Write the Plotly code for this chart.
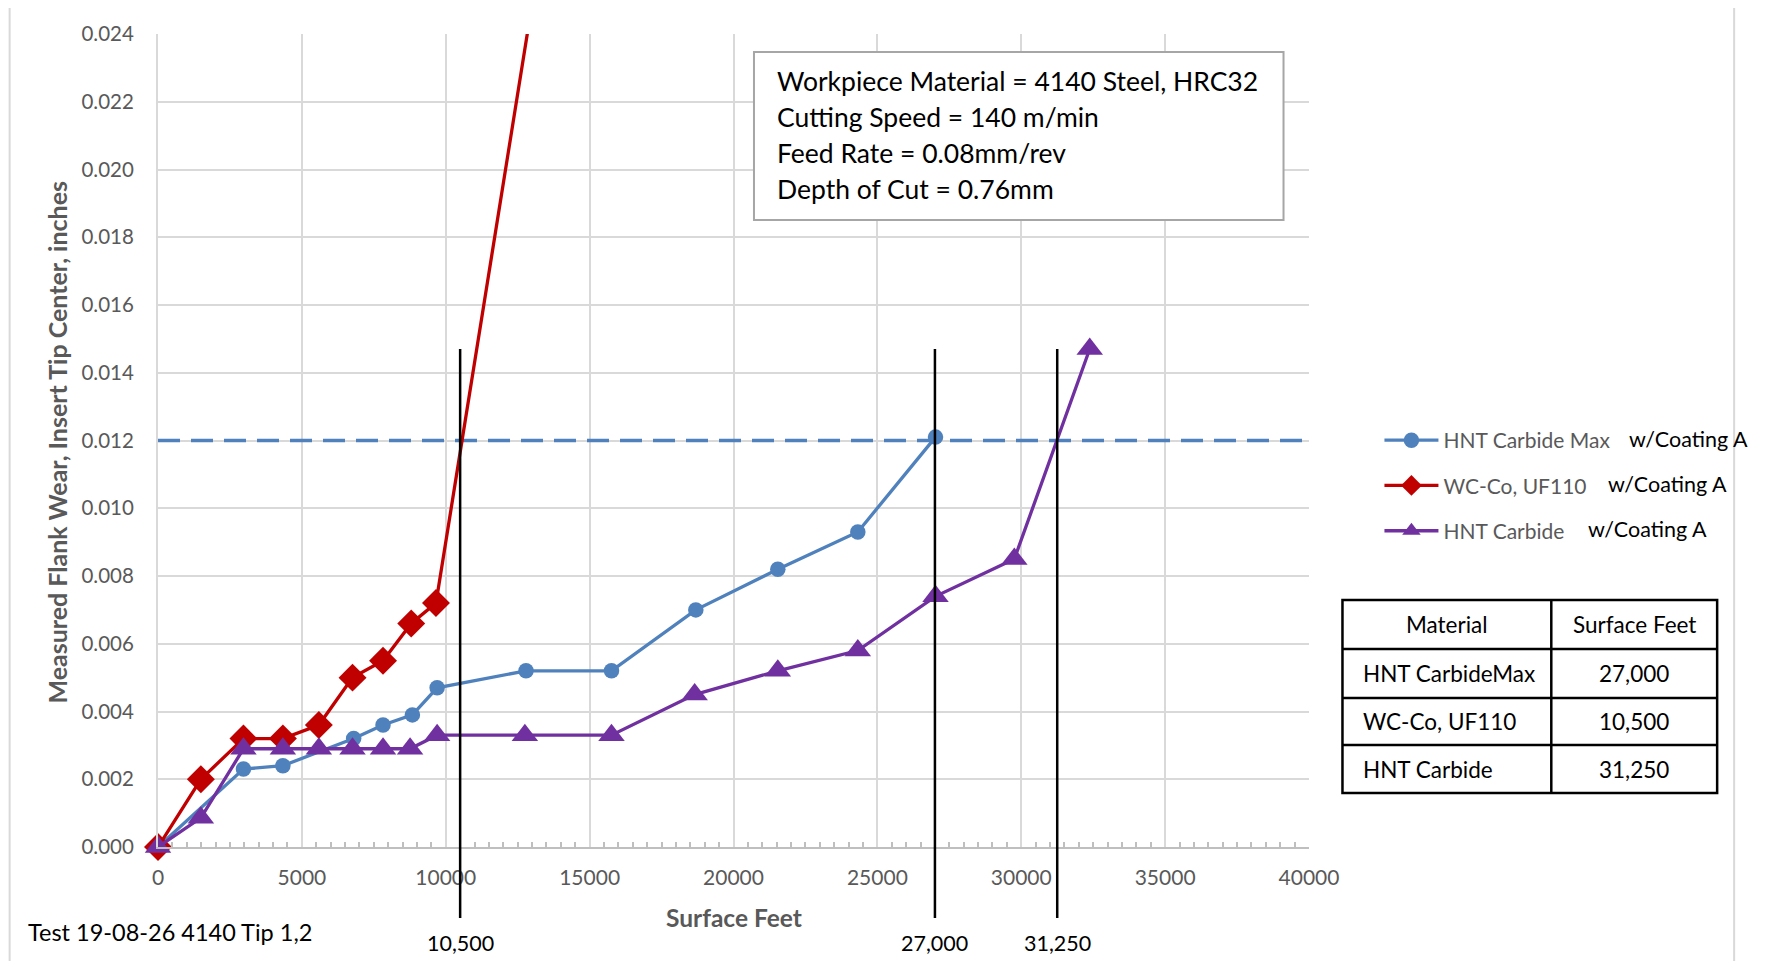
import plotly.graph_objects as go

# ---------------- data ----------------
sf_max = [0, 2970, 4340, 6800, 7820, 8840, 9700, 12790, 15760, 18690, 21540, 24320, 27020]
wear_max = [0, 0.0023, 0.0024, 0.0032, 0.0036, 0.0039, 0.0047, 0.0052, 0.0052, 0.0070, 0.0082, 0.0093, 0.0121]

sf_wc = [0, 1490, 2970, 4340, 5590, 6760, 7820, 8800, 9660, 15760]
wear_wc = [0, 0.0020, 0.0032, 0.0032, 0.0036, 0.0050, 0.0055, 0.0066, 0.0072, 0.0395]

sf_hnt = [0, 1490, 2970, 4340, 5590, 6760, 7820, 8760, 9700, 12750, 15760, 18650, 21540, 24320, 27020, 29760, 32380]
wear_hnt = [0, 0.00086, 0.0029, 0.0029, 0.0029, 0.0029, 0.0029, 0.0029, 0.0033, 0.0033, 0.0033, 0.0045, 0.0052, 0.0058, 0.0074, 0.0085, 0.0147]

series_names = ["HNT Carbide Max", "WC-Co, UF110", "HNT Carbide"]
coating_label = "w/Coating A"

threshold_x = [0, 39900]
threshold_wear = 0.012

life_feet = [10500, 27000, 31250]
life_line_top = 0.0147

x_range = [0, 40000]
y_range = [0, 0.024]

info_lines = [
    "Workpiece Material = 4140 Steel, HRC32",
    "Cutting Speed = 140 m/min",
    "Feed Rate = 0.08mm/rev",
    "Depth of Cut = 0.76mm",
]

table_header = ["Material", "Surface Feet"]
table_materials = ["HNT CarbideMax", "WC-Co, UF110", "HNT Carbide"]
table_feet = [27000, 10500, 31250]

footnote = "Test 19-08-26 4140 Tip 1,2"
x_title = "Surface Feet"
y_title = "Measured Flank Wear, Insert Tip Center, inches"

# ---------------- layout geometry (screenshot pixels) ----------------
WIDTH, HEIGHT = 1766, 961
OFF = 8  # page body margin
L, R, T, B = 157.5, 1309.5, 34, 847
W, H = R - L, B - T


def px(x):
    return (x - L) / W


def py(y):
    return (B - y) / H


FONT = "Lato, 'Open Sans', sans-serif"
GRAY = "#595959"
BLUE = "#4F81BD"
RED = "#C00000"
PURPLE = "#7030A0"
GRID = "#D9D9D9"

fig = go.Figure()

fig.add_trace(go.Scatter(
    x=threshold_x, y=[threshold_wear] * len(threshold_x), mode="lines",
    line=dict(color=BLUE, width=3.5, dash="22px,11px"), showlegend=False, hoverinfo="skip"))

fig.add_trace(go.Scatter(
    x=sf_max, y=wear_max, mode="lines+markers", name=series_names[0], legendgroup="a",
    line=dict(color=BLUE, width=3.3), marker=dict(symbol="circle", size=15.5, color=BLUE),
    cliponaxis=False))
fig.add_trace(go.Scatter(
    x=sf_wc, y=wear_wc, mode="lines+markers", name=series_names[1], legendgroup="b",
    line=dict(color=RED, width=3.3), marker=dict(symbol="diamond", size=21.5, color=RED),
    cliponaxis=False))
fig.add_trace(go.Scatter(
    x=sf_hnt, y=wear_hnt, mode="lines+markers", name=series_names[2], legendgroup="c",
    line=dict(color=PURPLE, width=3.3), marker=dict(symbol="triangle-up", size=23, color=PURPLE),
    cliponaxis=False))

shapes = []
annotations = []

# vertical life lines + labels
for f in life_feet:
    shapes.append(dict(type="line", xref="x", yref="paper", x0=f, x1=f,
                       y0=py(918), y1=life_line_top / y_range[1],
                       line=dict(color="black", width=2.5)))
    annotations.append(dict(x=f, y=py(943), xref="x", yref="paper", text=f"{f:,}",
                            showarrow=False, font=dict(family=FONT, size=21.5, color="black"),
                            xanchor="center", yanchor="middle"))

# outer chart border
shapes.append(dict(type="rect", xref="paper", yref="paper", x0=px(9), x1=px(1735),
                   y0=py(985), y1=py(6), line=dict(color="#D9D9D9", width=2), layer="below"))

# info box
shapes.append(dict(type="rect", xref="paper", yref="paper", x0=px(754), x1=px(1284),
                   y0=py(220), y1=py(52), line=dict(color="#A6A6A6", width=2),
                   fillcolor="white", layer="above"))
for i, line in enumerate(info_lines):
    annotations.append(dict(x=px(775), y=py(81 + 36 * i), xref="paper", yref="paper",
                            text=line, showarrow=False, xanchor="left", yanchor="middle",
                            font=dict(family=FONT, size=26.5, color="black")))

# coating labels next to legend
for xx, yy in zip([1628, 1607, 1587], [439, 484, 529]):
    annotations.append(dict(x=px(xx), y=py(yy), xref="paper", yref="paper", text=coating_label,
                            showarrow=False, xanchor="left", yanchor="middle",
                            font=dict(family=FONT, size=21.5, color="black")))

# table
tx = [1343, 1552, 1718]
ty = [600, 649, 698, 745, 793]
shapes.append(dict(type="rect", xref="paper", yref="paper", x0=px(tx[0]), x1=px(tx[2]),
                   y0=py(ty[-1]), y1=py(ty[0]), line=dict(color="black", width=2.5)))
shapes.append(dict(type="line", xref="paper", yref="paper", x0=px(tx[1]), x1=px(tx[1]),
                   y0=py(ty[-1]), y1=py(ty[0]), line=dict(color="black", width=2.5)))
for yy in ty[1:-1]:
    shapes.append(dict(type="line", xref="paper", yref="paper", x0=px(tx[0]), x1=px(tx[2]),
                       y0=py(yy), y1=py(yy), line=dict(color="black", width=2.5)))
tfont = dict(family=FONT, size=22.5, color="black")
annotations.append(dict(x=px((tx[0] + tx[1]) / 2), y=py((ty[0] + ty[1]) / 2), xref="paper", yref="paper",
                        text=table_header[0], showarrow=False, xanchor="center", yanchor="middle", font=tfont))
annotations.append(dict(x=px((tx[1] + tx[2]) / 2), y=py((ty[0] + ty[1]) / 2), xref="paper", yref="paper",
                        text=table_header[1], showarrow=False, xanchor="center", yanchor="middle", font=tfont))
for i, (m, v) in enumerate(zip(table_materials, table_feet)):
    yc = (ty[i + 1] + ty[i + 2]) / 2
    annotations.append(dict(x=px(1362), y=py(yc), xref="paper", yref="paper", text=m,
                            showarrow=False, xanchor="left", yanchor="middle", font=tfont))
    annotations.append(dict(x=px((tx[1] + tx[2]) / 2), y=py(yc), xref="paper", yref="paper",
                            text=f"{v:,}", showarrow=False, xanchor="center", yanchor="middle", font=tfont))

# titles and footnote
annotations.append(dict(x=px(734), y=py(917), xref="paper", yref="paper", text=f"<b>{x_title}</b>",
                        showarrow=False, xanchor="center", yanchor="middle",
                        font=dict(family=FONT, size=24.5, color=GRAY)))
annotations.append(dict(x=px(56), y=py(442), xref="paper", yref="paper", text=f"<b>{y_title}</b>",
                        showarrow=False, xanchor="center", yanchor="middle", textangle=-90,
                        font=dict(family=FONT, size=25, color=GRAY)))
annotations.append(dict(x=px(25), y=py(932), xref="paper", yref="paper", text=footnote,
                        showarrow=False, xanchor="left", yanchor="middle",
                        font=dict(family=FONT, size=23.5, color="black")))

fig.update_layout(
    width=WIDTH, height=HEIGHT,
    margin=dict(l=L - OFF, r=WIDTH - R + OFF, t=T - OFF, b=HEIGHT - B + OFF, autoexpand=False),
    paper_bgcolor="white", plot_bgcolor="white",
    font=dict(family=FONT, color=GRAY),
    shapes=shapes, annotations=annotations,
    legend=dict(x=px(1380), y=py(420), xanchor="left", yanchor="top",
                font=dict(family=FONT, size=21, color=GRAY), bgcolor="rgba(0,0,0,0)",
                tracegroupgap=15, itemwidth=54),
    xaxis=dict(range=x_range, dtick=5000, tickformat="d", showgrid=True, gridcolor=GRID, gridwidth=2,
               showline=True, linecolor="#BFBFBF", linewidth=2, ticks="", zeroline=False,
               tickfont=dict(family=FONT, size=21, color=GRAY), ticklabelstandoff=11,
               minor=dict(dtick=500, ticks="inside", ticklen=5, tickcolor="#BFBFBF", tickwidth=1.5,
                          showgrid=False)),
    yaxis=dict(range=y_range, dtick=0.002, tickformat=".3f", showgrid=True, gridcolor=GRID, gridwidth=2,
               showline=True, linecolor=GRID, linewidth=2, ticks="", zeroline=False,
               tickfont=dict(family=FONT, size=20.5, color=GRAY), ticklabelstandoff=18),
)

fig.write_html("out.html")
